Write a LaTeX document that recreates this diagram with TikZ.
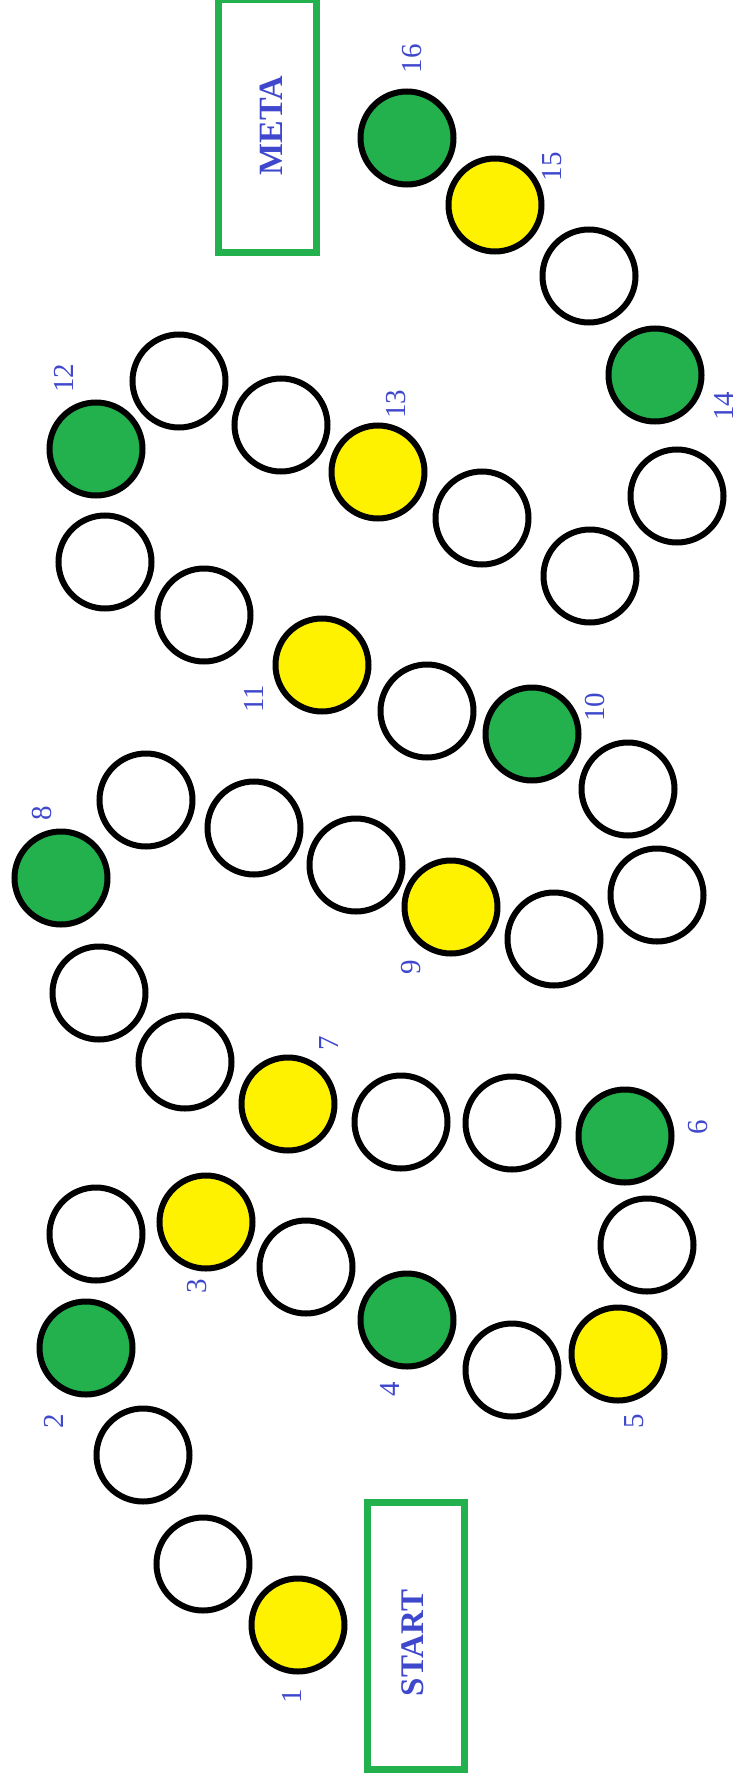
\documentclass[tikz,border=0pt]{standalone}
\usepackage{fontspec}
\setmainfont{Liberation Serif}
\definecolor{pgreen}{HTML}{22B14C}
\definecolor{pyellow}{HTML}{FFF200}
\definecolor{pblue}{HTML}{3F48CC}
\begin{document}
\begin{tikzpicture}[x=1pt,y=-1pt,
  spot/.style={circle,draw=black,line width=6pt,minimum size=93pt,inner sep=0pt,fill=white},
  yspot/.style={spot,fill=pyellow},
  gspot/.style={spot,fill=pgreen},
  num/.style={text=pblue,rotate=90,inner sep=0pt,font=\fontsize{29}{30}\selectfont},
  goalbox/.style={draw=pgreen,line width=7pt,inner sep=0pt},
  goaltext/.style={text=pblue,rotate=90,inner sep=0pt,font=\bfseries\fontsize{34}{40}\selectfont}]
\useasboundingbox (0,0) rectangle (737,1787);
% finish and start boxes
\node[goalbox,minimum width=98pt,minimum height=252.5pt] (metabox) at (267.5,126.25) {};
\node[goaltext] (meta) at (271,125.5) {META};
\node[goalbox,minimum width=97pt,minimum height=267pt] (startbox) at (416,1636) {};
\node[goaltext,font=\bfseries\fontsize{33}{40}\selectfont] (start) at (412.5,1643) {START};
% track
\node[yspot] (c1) at (298,1625) {};
\node[spot] (c2) at (203,1564) {};
\node[spot] (c3) at (143,1455) {};
\node[gspot] (c4) at (86,1348) {};
\node[spot] (c5) at (96,1234) {};
\node[yspot] (c6) at (206,1222) {};
\node[spot] (c7) at (306,1267) {};
\node[gspot] (c8) at (407,1320) {};
\node[spot] (c9) at (512,1370) {};
\node[yspot] (c10) at (618,1354) {};
\node[spot] (c11) at (647,1245) {};
\node[gspot] (c12) at (625,1136) {};
\node[spot] (c13) at (512,1123) {};
\node[spot] (c14) at (401,1122) {};
\node[yspot] (c15) at (288,1104) {};
\node[spot] (c16) at (185,1062) {};
\node[spot] (c17) at (99,993) {};
\node[gspot] (c18) at (61,878) {};
\node[spot] (c19) at (146,800) {};
\node[spot] (c20) at (254,828) {};
\node[spot] (c21) at (356,865) {};
\node[yspot] (c22) at (451,907) {};
\node[spot] (c23) at (554,939) {};
\node[spot] (c24) at (657,895) {};
\node[spot] (c25) at (628,789) {};
\node[gspot] (c26) at (532,734) {};
\node[spot] (c27) at (427,711) {};
\node[yspot] (c28) at (322,665) {};
\node[spot] (c29) at (204,615) {};
\node[spot] (c30) at (105,562) {};
\node[gspot] (c31) at (96,449) {};
\node[spot] (c32) at (179,381) {};
\node[spot] (c33) at (281,425) {};
\node[yspot] (c34) at (378,472) {};
\node[spot] (c35) at (482,518) {};
\node[spot] (c36) at (590,576) {};
\node[spot] (c37) at (677,496) {};
\node[gspot] (c38) at (655,375) {};
\node[spot] (c39) at (589,276) {};
\node[yspot] (c40) at (495,205) {};
\node[gspot] (c41) at (407,138) {};
% numbers
\node[num] (n1) at (292,1696) {1};
\node[num] (n2) at (54,1421) {2};
\node[num] (n3) at (197,1286) {3};
\node[num] (n4) at (390,1389) {4};
\node[num] (n5) at (634,1421) {5};
\node[num] (n6) at (698,1127) {6};
\node[num] (n7) at (329,1043) {7};
\node[num] (n8) at (42,813) {8};
\node[num] (n9) at (411,967) {9};
\node[num] (n10) at (595,707) {10};
\node[num] (n11) at (254,699) {11};
\node[num] (n12) at (64,378) {12};
\node[num] (n13) at (396,404) {13};
\node[num] (n14) at (724,406) {14};
\node[num] (n15) at (552,167) {15};
\node[num] (n16) at (412,59) {16};
\end{tikzpicture}
\end{document}
